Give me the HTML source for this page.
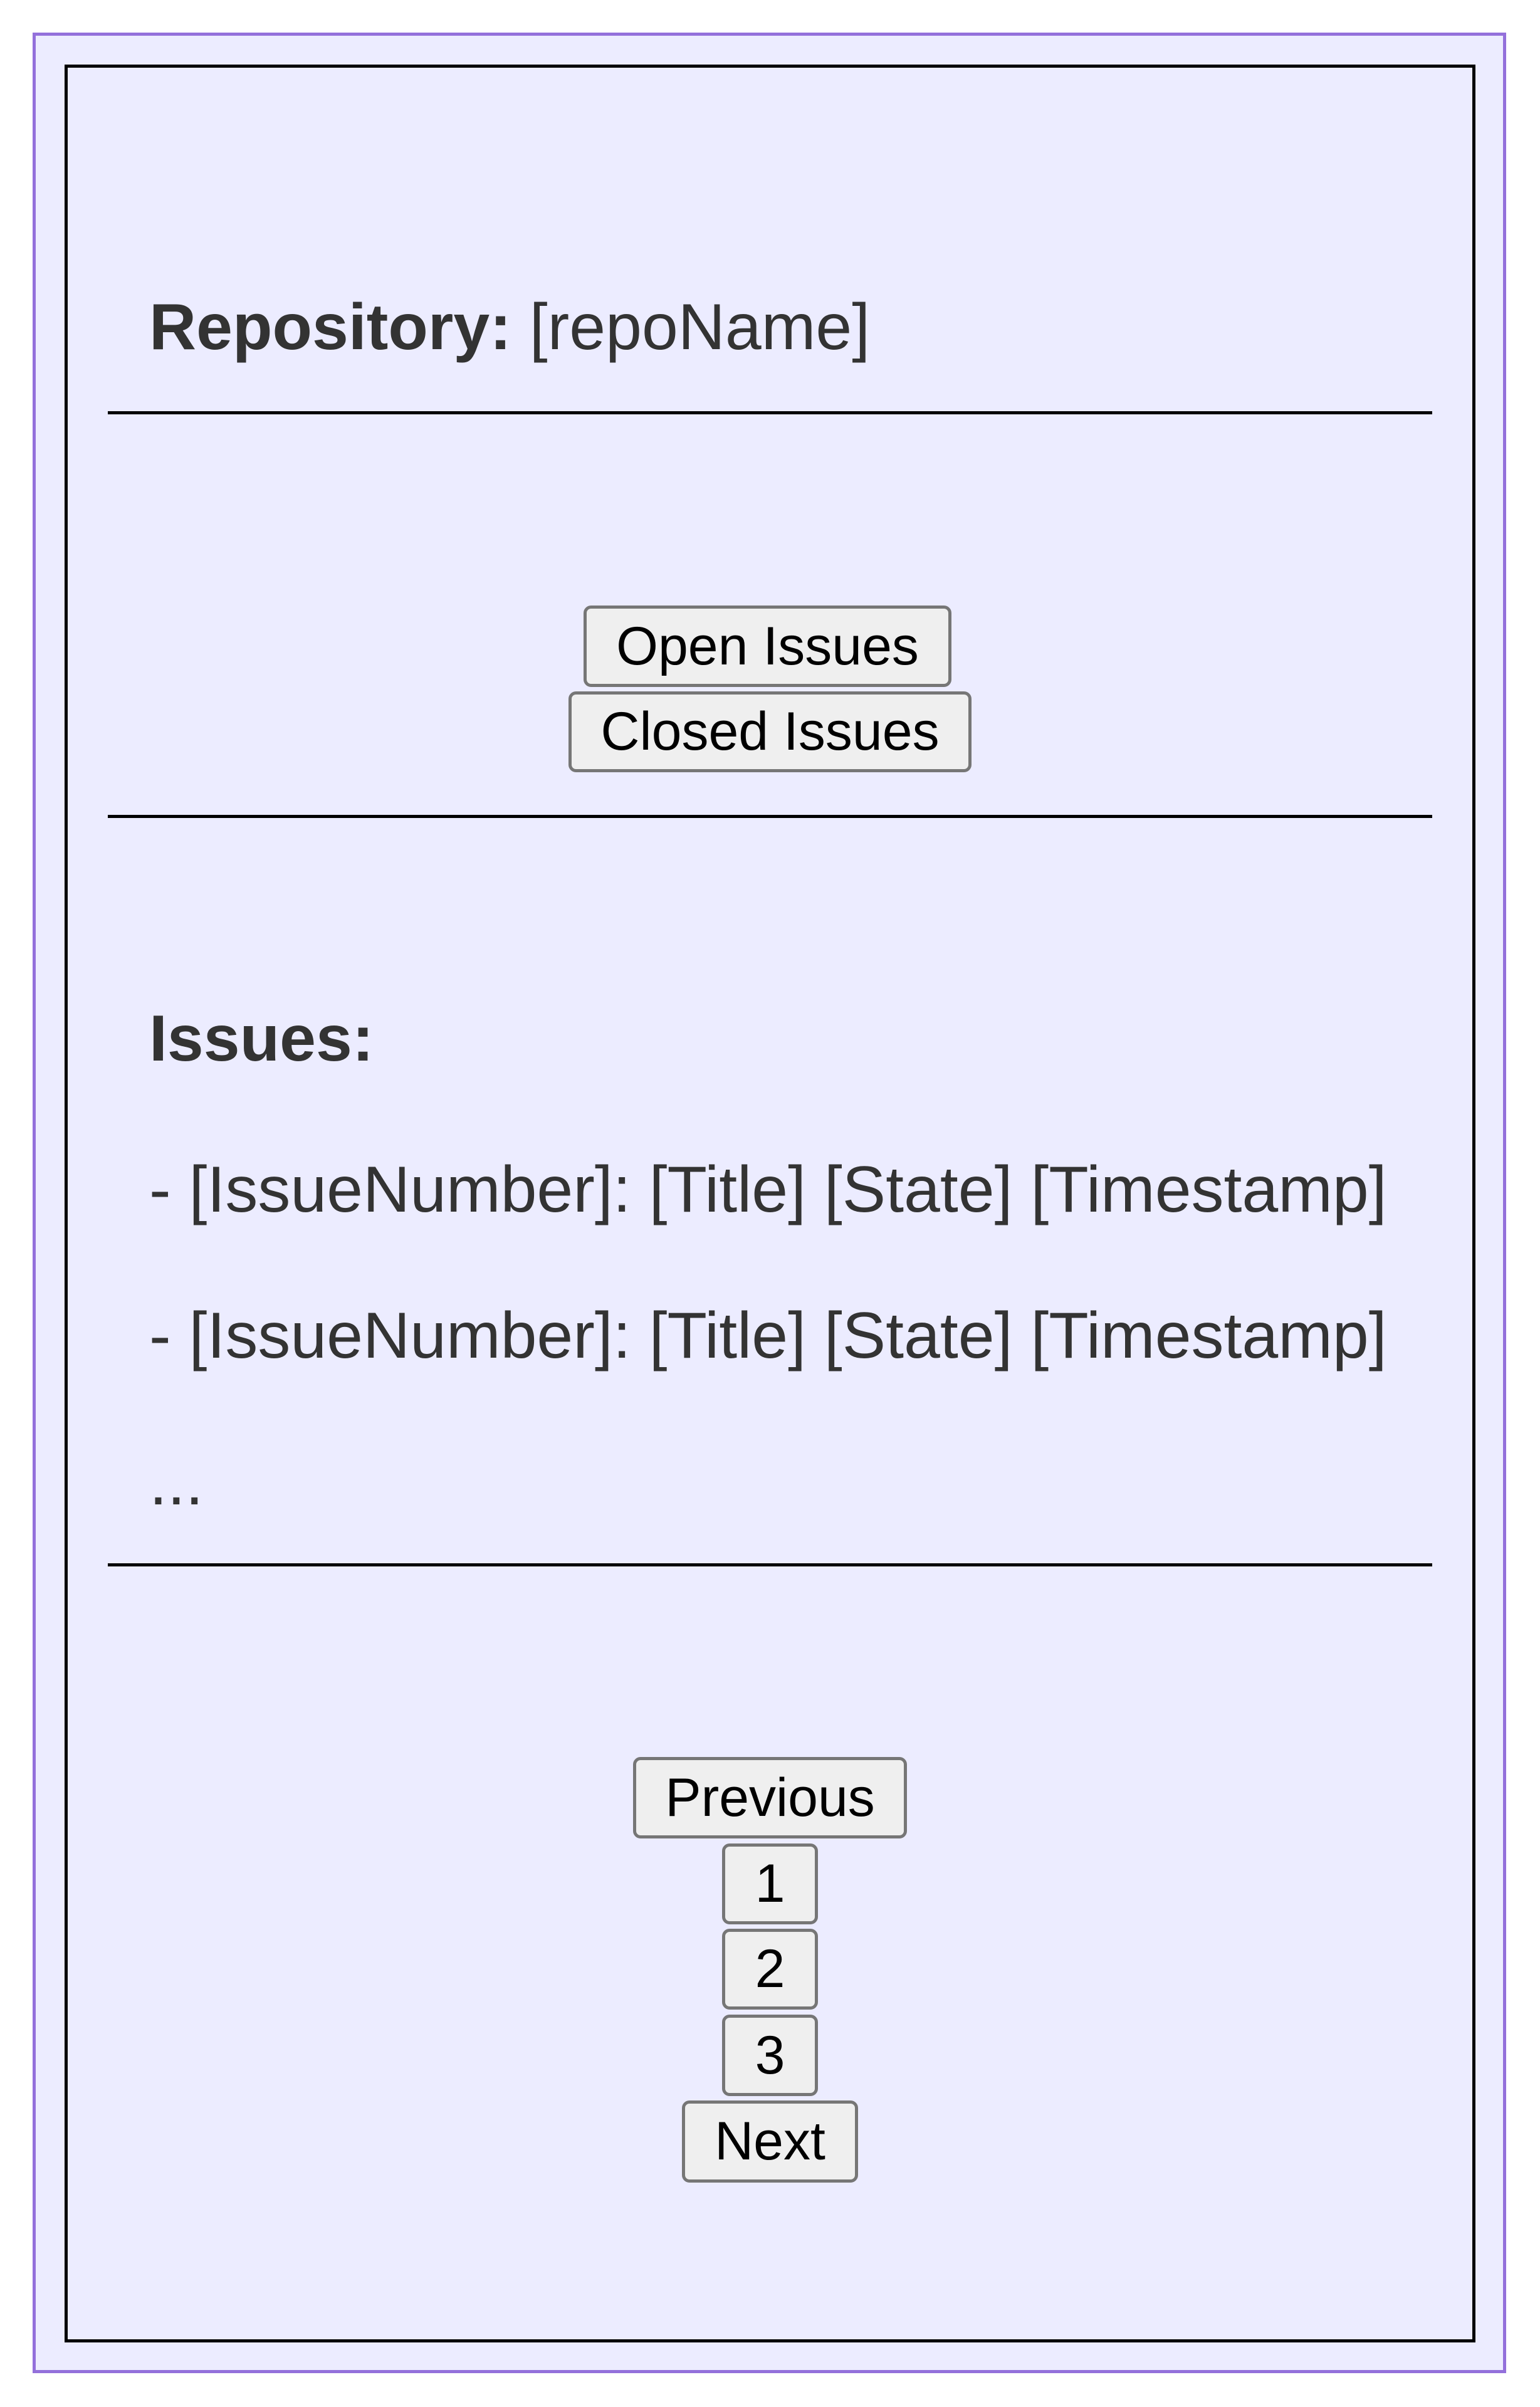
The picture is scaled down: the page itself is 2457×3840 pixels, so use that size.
<!DOCTYPE html>
<html><head><meta charset="utf-8"><style>
html,body{margin:0;padding:0;background:#fff;}
body{width:2457px;height:3840px;position:relative;overflow:hidden;font-family:"Liberation Sans",sans-serif;}
.abs{position:absolute;}
.outer{left:52px;top:52px;width:2341px;height:3724px;border:5px solid #9370DB;background:#ECECFF;}
.inner{left:103px;top:103px;width:2241px;height:3624px;border:5px solid #000;}
.line{left:172px;width:2113px;height:5px;background:#000;}
.t{left:238px;color:#333;font-size:104px;line-height:1;white-space:nowrap;}
.btn{box-sizing:border-box;border:5px solid #767676;border-radius:12px;background:#efefef;color:#000;font-size:86px;display:flex;align-items:center;justify-content:center;white-space:nowrap;}
</style></head><body>
<div class="abs outer"></div>
<div class="abs inner"></div>
<div class="abs t" style="top:470px;"><b>Repository:</b> [repoName]</div>
<div class="abs line" style="top:656px;"></div>
<div class="abs btn" style="left:931px;top:966px;width:587px;height:130px;">Open Issues</div>
<div class="abs btn" style="left:907px;top:1103px;width:643px;height:129px;">Closed Issues</div>
<div class="abs line" style="top:1300px;"></div>
<div class="abs t" style="top:1605px;"><b>Issues:</b></div>
<div class="abs t" style="top:1846px;">- [IssueNumber]: [Title] [State] [Timestamp]</div>
<div class="abs t" style="top:2079px;">- [IssueNumber]: [Title] [State] [Timestamp]</div>
<div class="abs t" style="top:2313px;">...</div>
<div class="abs line" style="top:2494px;"></div>
<div class="abs btn" style="left:1010px;top:2803px;width:437px;height:130px;">Previous</div>
<div class="abs btn" style="left:1152px;top:2941px;width:153px;height:129px;">1</div>
<div class="abs btn" style="left:1152px;top:3077px;width:153px;height:129px;">2</div>
<div class="abs btn" style="left:1152px;top:3214px;width:153px;height:130px;">3</div>
<div class="abs btn" style="left:1088px;top:3351px;width:281px;height:131px;">Next</div>
</body></html>
